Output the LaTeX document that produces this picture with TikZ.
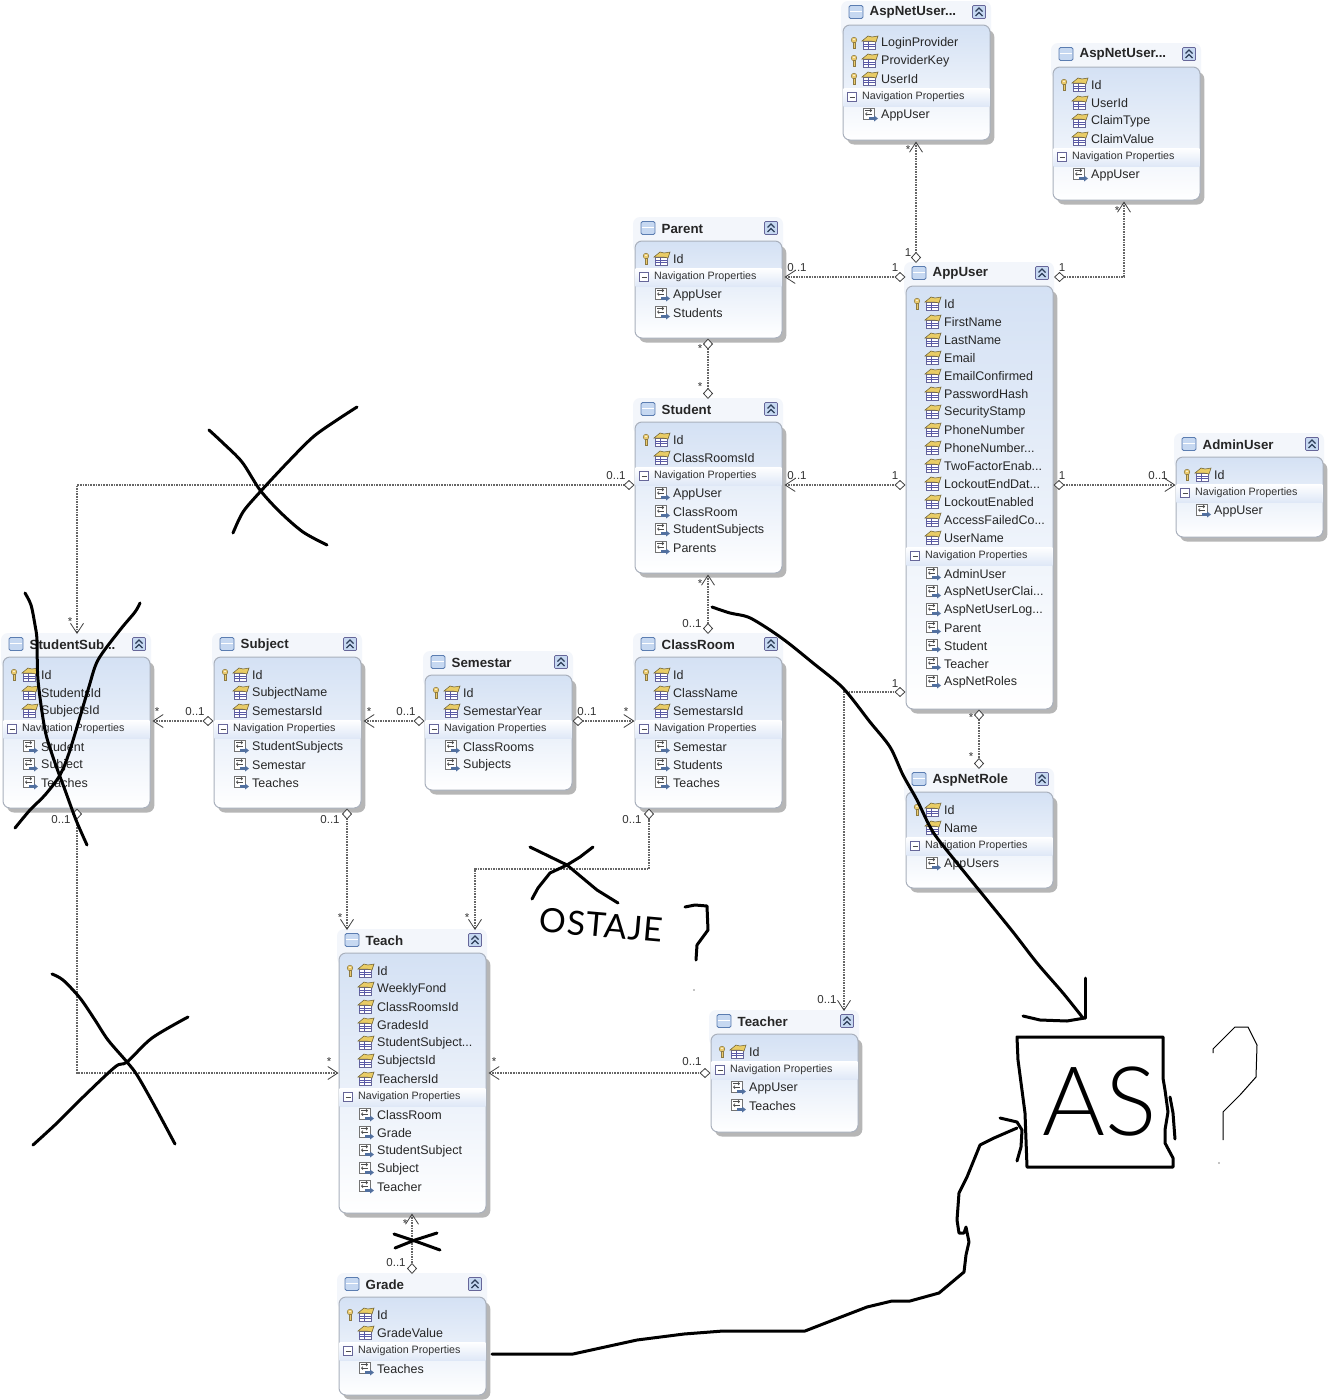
\documentclass[tikz,border=0pt]{standalone}
\usepackage{fontspec}
\usetikzlibrary{arrows.meta,calc}
\setmainfont{Liberation Sans}
\newfontfamily\hand{Lato}[LetterSpace=3]
\newfontfamily\handb{Lato Light}
\protected\def\dd{...}
\definecolor{bodytop}{HTML}{D4E1F4}
\definecolor{bodybot}{HTML}{FFFFFF}
\definecolor{edgec}{HTML}{A9B0BC}
\definecolor{shadowc}{HTML}{B6B6B6}
\definecolor{panelc}{HTML}{F3F6FB}
\definecolor{bandc}{HTML}{DFE8F7}
\definecolor{titleic}{HTML}{C6D8F1}
\definecolor{iconb}{HTML}{5B7DB1}
\definecolor{keyc}{HTML}{EBCB6E}
\definecolor{propy}{HTML}{E9CC66}
\definecolor{linec}{HTML}{666666}
\tikzset{
  x=1pt,y=-1pt,
  entbody/.style={draw=edgec,line width=1pt,rounded corners=7pt,top color=bodytop,bottom color=bodybot,inner sep=0pt,minimum width=147pt},
  rowtxt/.style={anchor=west,inner sep=0pt,font=\fontsize{12.5}{14}\selectfont,text=black!85},
  navtxt/.style={anchor=west,inner sep=0pt,font=\fontsize{10.7}{13}\selectfont,text=black!80},
  titletxt/.style={anchor=west,inner sep=0pt,font=\fontsize{13.3}{15}\selectfont\bfseries,text=black!85},
  lab/.style={inner sep=0pt,font=\fontsize{11.5}{13}\selectfont,text=black!80},
  conn/.style={draw=linec,line width=1.1pt,dash pattern=on 1.6pt off 1pt},
  diamarrow/.style={{Straight Barb[length=10pt,width=13pt,line width=.8pt,color=black!75]}-{Diamond[open,fill=white,length=11pt,width=10pt,line width=.8pt,color=black!75]}},
  bothdiamond/.style={{Diamond[open,fill=white,length=11pt,width=10pt,line width=.8pt,color=black!75]}-{Diamond[open,fill=white,length=11pt,width=10pt,line width=.8pt,color=black!75]}},
  ink/.style={draw=black,line width=3pt,line cap=round,line join=round},
  thinink/.style={draw=black,line width=1pt,line join=round},
}
\newcommand\propicon[2]{\begin{scope}[shift={(#1,#2)}]
  \fill[white,draw=gray!80!blue,line width=.6pt] (-7,-2) rectangle (5,6);
  \draw[gray!70!blue,line width=.5pt] (-7,1)--(5,1) (-7,3.5)--(5,3.5) (-2,-2)--(-2,6);
  \fill[propy,draw=black!55!propy,line width=.5pt] (-8,-2)--(-2,-7)--(2,-6)--(8,-7)--(6,-1)--(1,-2)--cycle;
\end{scope}}
\newcommand\keyicon[2]{\begin{scope}[shift={(#1,#2)}]
  \fill[keyc,draw=black!40!keyc,line width=.5pt] (0,-3) circle (2.8);
  \fill[white] (0,-3.6) circle (.8);
  \fill[keyc,draw=black!40!keyc,line width=.4pt] (-.9,-.5) rectangle (1,5);
\end{scope}}
\newcommand\navicon[2]{\begin{scope}[shift={(#1,#2)}]
  \fill[white,draw=gray!90!black,line width=.6pt] (-7,-7) rectangle (4,4);
  \draw[black!70,line width=.7pt,-{Straight Barb[length=1.5pt,width=3pt]}] (-5,-4.5)--(2,-4.5);
  \draw[black!70,line width=.7pt,{Straight Barb[length=1.5pt,width=3pt]}-] (-5,-1)--(2,-1);
  \fill[iconb!90!black] (-1,2) rectangle (4,5);
  \fill[iconb!90!black] (4,.5)--(8,3.5)--(4,6.5)--cycle;
\end{scope}}
\newcommand\rowk[4]{\keyicon{#1+11}{#2}\propicon{#1+27}{#2}\node[rowtxt] (#4) at (#1+38,#2+.2) {#3};}
\newcommand\rowp[4]{\propicon{#1+27}{#2}\node[rowtxt] (#4) at (#1+38,#2+.2) {#3};}
\newcommand\rown[4]{\navicon{#1+27}{#2}\node[rowtxt] (#4) at (#1+38,#2+.2) {#3};}
\newcommand\rowh[4]{%
  \shade[top color=white,bottom color=bandc] (#1+.7,#2-9) rectangle (#1+146.3,#2+9);
  \fill[white,draw=gray!80!blue,line width=.5pt] (#1+4.5,#2-4.5) rectangle (#1+13.5,#2+4.5);
  \draw[black!70,line width=.8pt] (#1+6.5,#2)--(#1+11.5,#2);
  \node[navtxt] (#4) at (#1+19,#2+.2) {#3};}
% id, title, x, first row y, bottom, rows
\newcommand\entity[6]{%
  \pgfmathsetmacro\btop{#4-18}%
  \pgfmathsetmacro\bh{#5-\btop}%
  \pgfmathsetmacro\cy{(\btop+#5)/2}%
  \pgfmathsetmacro\ty{#4-31}%
  \fill[panelc,rounded corners=7pt] (#3-2,\ty-11) rectangle (#3+148,\btop+12);
  \fill[shadowc,rounded corners=7pt] (#3+4,\btop+5) rectangle (#3+151.3,#5+4.5);
  \node[entbody,minimum height=\bh pt] (#1) at (#3+73.5,\cy) {};
  \fill[titleic,draw=iconb,line width=.8pt,rounded corners=1.5pt] (#3+6,\ty-6.5) rectangle (#3+20,\ty+6.5);
  \fill[white] (#3+6.6,\ty-1.5) rectangle (#3+19.4,\ty+.2);
  \node[titletxt] (#1-title) at (#3+26.5,\ty+.7) {#2};
  \fill[titleic,draw=gray!80!blue,line width=.7pt,rounded corners=1pt] (#3+129.5,\ty-6.5) rectangle (#3+142.5,\ty+6.5);
  \draw[iconb!50!black,line width=1.1pt] (#3+132.5,\ty-.5)--(#3+136,\ty-4)--(#3+139.5,\ty-.5) (#3+132.5,\ty+4)--(#3+136,\ty+.5)--(#3+139.5,\ty+4);
  \foreach[count=\i] \t/\s in {#6}{%
    \pgfmathsetmacro\yy{#4+18*(\i-1)}%
    \csname row\t\endcsname{#3}{\yy}{\s}{#1-r\i}%
  }%
}
\begin{document}
\begin{tikzpicture}
\useasboundingbox (0,0) rectangle (1329,1400);
\fill[white] (0,0) rectangle (1329,1400);

\entity{login}{AspNetUser\dd}{843}{43}{140}{k/LoginProvider,k/ProviderKey,k/UserId,h/Navigation Properties,n/AppUser}
\entity{claim}{AspNetUser\dd}{1053}{85}{200}{k/Id,p/UserId,p/ClaimType,p/ClaimValue,h/Navigation Properties,n/AppUser}
\entity{parent}{Parent}{635}{259}{338}{k/Id,h/Navigation Properties,n/AppUser,n/Students}
\entity{student}{Student}{635}{440}{573}{k/Id,p/ClassRoomsId,h/Navigation Properties,n/AppUser,n/ClassRoom,n/StudentSubjects,n/Parents}
\entity{appuser}{AppUser}{906}{304}{709}{k/Id,p/FirstName,p/LastName,p/Email,p/EmailConfirmed,p/PasswordHash,p/SecurityStamp,p/PhoneNumber,p/PhoneNumber\dd,p/TwoFactorEnab\dd,p/LockoutEndDat\dd,p/LockoutEnabled,p/AccessFailedCo\dd,p/UserName,h/Navigation Properties,n/AdminUser,n/AspNetUserClai\dd,n/AspNetUserLog\dd,n/Parent,n/Student,n/Teacher,n/AspNetRoles}
\entity{admin}{AdminUser}{1176}{475}{537}{k/Id,h/Navigation Properties,n/AppUser}
\entity{studsub}{StudentSub\dd}{3}{675}{808}{k/Id,p/StudentsId,p/SubjectsId,h/Navigation Properties,n/Student,n/Subject,n/Teaches}
\entity{subject}{Subject}{214}{675}{808}{k/Id,p/SubjectName,p/SemestarsId,h/Navigation Properties,n/StudentSubjects,n/Semestar,n/Teaches}
\entity{semestar}{Semestar}{425}{693}{790}{k/Id,p/SemestarYear,h/Navigation Properties,n/ClassRooms,n/Subjects}
\entity{classroom}{ClassRoom}{635}{675}{808}{k/Id,p/ClassName,p/SemestarsId,h/Navigation Properties,n/Semestar,n/Students,n/Teaches}
\entity{role}{AspNetRole}{906}{810}{888}{k/Id,p/Name,h/Navigation Properties,n/AppUsers}
\entity{teach}{Teach}{339}{971}{1213}{k/Id,p/WeeklyFond,p/ClassRoomsId,p/GradesId,p/StudentSubject\dd,p/SubjectsId,p/TeachersId,h/Navigation Properties,n/ClassRoom,n/Grade,n/StudentSubject,n/Subject,n/Teacher}
\entity{teacher}{Teacher}{711}{1052}{1132}{k/Id,h/Navigation Properties,n/AppUser,n/Teaches}
\entity{grade}{Grade}{339}{1315}{1395}{k/Id,p/GradeValue,h/Navigation Properties,n/Teaches}

% connectors
\draw[conn,diamarrow] ([yshift=-1pt]login.south -| 916,0) -- (916,263);
\draw[conn,diamarrow] ([yshift=-1pt]claim.south -| 1124,0) -- (1124,277) -- (1054,277);
\draw[conn,diamarrow] ([xshift=2pt]parent.east |- 0,277) -- (appuser.west |- 0,277);
\draw[conn,bothdiamond] (parent.south -| 708,0) -- (708,399);
\draw[conn,diamarrow] ([xshift=2pt]student.east |- 0,485) -- (appuser.west |- 0,485);
\draw[conn,diamarrow] (admin.west |- 0,485) -- (appuser.east |- 0,485);
\draw[conn,diamarrow] (77,634) -- (77,485) -- (student.west |- 0,485);
\draw[conn,diamarrow] ([yshift=-1pt]student.south -| 708,0) -- (708,634);
\draw[conn,diamarrow] ([xshift=2pt]studsub.east |- 0,721) -- (subject.west |- 0,721);
\draw[conn,diamarrow] ([xshift=2pt]subject.east |- 0,721) -- (semestar.west |- 0,721);
\draw[conn,diamarrow] (classroom.west |- 0,721) -- (semestar.east |- 0,721);
\draw[conn,diamarrow] (347,930) -- (subject.south -| 347,0);
\draw[conn,diamarrow] (475,930) -- (475,869) -- (649,869) -- (classroom.south -| 649,0);
\draw[conn,diamarrow] (844,1011) -- (844,692) -- (appuser.west |- 0,692);
\draw[conn,diamarrow] (teach.west |- 0,1073) -- (77,1073) -- (studsub.south -| 77,0);
\draw[conn,diamarrow] ([xshift=2pt]teach.east |- 0,1073) -- (teacher.west |- 0,1073);
\draw[conn,bothdiamond] (appuser.south -| 979,0) -- (979,769);
\draw[conn,diamarrow] (teach.south -| 412,0) -- (412,1274);

% multiplicity labels
\foreach[count=\i] \lx/\ly/\lt in {908/150/*,908/253/1,1117/211/*,1062/268/1,797/268/0..1,895/268/1,700/349/*,700/387/*,797/476/0..1,895/476/1,1062/476/1,1158/476/0..1,616/476/0..1,70/622/*,700/584/*,692/624/0..1,157/712/*,195/712/0..1,369/712/*,406/712/0..1,587/712/0..1,626/712/*,330/820/0..1,340/918/*,632/820/0..1,467/918/*,895/684/1,827/1000/0..1,61/820/0..1,329/1062/*,494/1062/*,692/1062/0..1,971/718/*,971/757/*,405/1224/*,396/1263/0..1}
  \node[lab] (lab\i) at (\lx,\ly) {\lt};

% hand-drawn marks
\draw[ink] plot[smooth,tension=.5] coordinates {(209,430) (223,443) (242,462) (260,490) (280,512) (303,532) (327,545)};
\draw[ink] plot[smooth,tension=.5] coordinates {(357,407) (337,420) (313,437) (287,463) (260,492) (243,512) (233,533)};
\draw[ink] plot[smooth,tension=.5] coordinates {(25,593) (31,605) (35,625) (37,640) (38,680) (45,730) (54,760) (65,790) (76,820) (87,845)};
\draw[ink] plot[smooth,tension=.5] coordinates {(140,603) (135,612) (120,630) (98,660) (88,690) (70,750) (60,775) (45,795) (30,810) (15,828)};
\draw[ink] (530,847)--(567,865)--(597,890)--(618,903);
\draw[ink] (593,847)--(580,857)--(567,865)--(550,873)--(538,888)--(532,899);
\node[inner sep=0pt,rotate=-5] (ostaje) at (601,925) {\hand\fontsize{33.5}{34}\selectfont OSTAJE};
\draw[ink] (685,907)--(695,905)--(707,906)--(708,930)--(697,945)--(696,960);
\fill (694,990) circle (.7);
\draw[ink] (394,1234)--(415,1241)--(440,1250);
\draw[ink] (395,1248)--(415,1240)--(437,1233);
\draw[ink] plot[smooth,tension=.5] coordinates {(52,974) (63,980) (80,998) (95,1020) (108,1040) (127,1062) (137,1075) (153,1103) (175,1144)};
\draw[ink] plot[smooth,tension=.5] coordinates {(188,1017) (152,1038) (127,1062) (115,1067) (80,1100) (57,1123) (33,1145)};
% curve to AS box
\draw[ink] plot[smooth,tension=.5] coordinates {(712,607) (730,613) (748,617) (767,628) (787,642) (813,663) (843,688) (870,722) (890,747) (903,775) (917,800) (933,832) (957,863) (983,895) (1013,932) (1037,963) (1063,993) (1083,1018)};
\draw[ink] (1085,978)--(1085,1018);
\draw[ink] (1023,1016)--(1040,1020)--(1067,1021)--(1085,1018);
\draw[ink] (1017,1037)--(1163,1037)--(1163,1078)--(1165,1090)--(1168,1112)--(1165,1130)--(1165,1143)--(1173,1158)--(1173,1167)--(1027,1167)--(1025,1113)--(1018,1060)--cycle;
\draw[ink] (1170,1097)--(1173,1113)--(1175,1139);
\node[inner sep=0pt] (as) at (1100,1102) {\handb\fontsize{96}{96}\selectfont AS};
\draw[ink] (492,1354)--(573,1354)--(637,1340)--(684,1334)--(723,1331)--(805,1331)--(841,1317)--(867,1307)--(892,1301)--(910,1301)--(939,1293)--(964,1272)--(966,1255)--(969,1242)--(966,1227)--(964,1233)--(959,1233)--(957,1220)--(959,1193)--(967,1177)--(980,1145)--(994,1138)--(1017,1128);
\draw[ink] (1000,1118)--(1017,1122)--(1022,1130)--(1021,1147)--(1017,1161);
\draw[thinink] (1213,1053)--(1213,1049)--(1235,1027)--(1248,1027)--(1257,1045)--(1256,1077)--(1240,1095)--(1223,1112)--(1223,1140);
\fill (1219,1163) circle (.7);
\end{tikzpicture}
\end{document}
